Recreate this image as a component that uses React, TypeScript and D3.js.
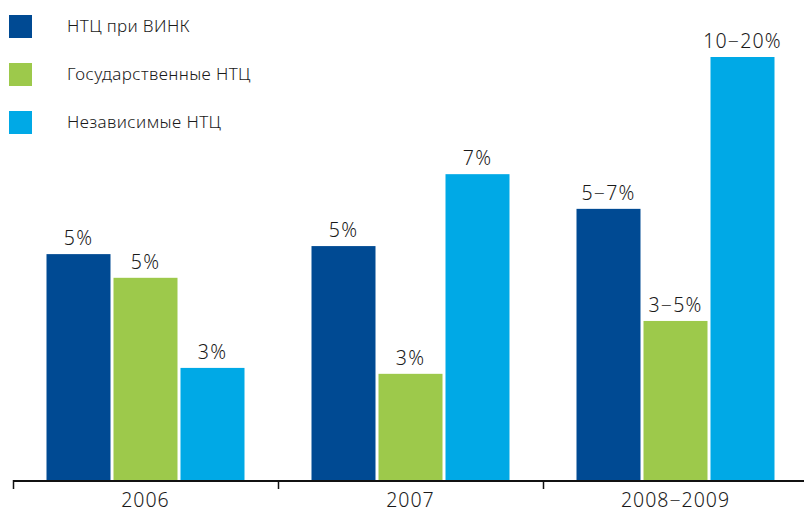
import React, { useRef, useEffect } from "react";
import * as d3 from "d3";

// Categories along the x axis
const years = ["2006", "2007", "2008−2009"];

// Series names (legend) and colours
const seriesNames = ["НТЦ при ВИНК", "Государственные НТЦ", "Независимые НТЦ"];
const colors = ["#004a93", "#9dc94b", "#00a9e6"];

// Bar heights (relative units), one array per series
const vinkValues = [5.34, 5.53, 6.41];
const stateValues = [4.78, 2.51, 3.76];
const independentValues = [2.65, 7.23, 10];

// Labels printed above each bar
const vinkLabels = ["5%", "5%", "5−7%"];
const stateLabels = ["5%", "3%", "3−5%"];
const independentLabels = ["3%", "7%", "10−20%"];

const FONT = "'Noto Sans', 'Open Sans', sans-serif";
const TEXT_COLOR = "#1a1a1a";

function App() {
  const chartRef = useRef<SVGSVGElement | null>(null);

  useEffect(() => {
    const svg = d3.select(chartRef.current);
    svg.selectAll("*").remove();

    const width = 804;
    const baseline = 480;

    const values = [vinkValues, stateValues, independentValues];
    const labels = [vinkLabels, stateLabels, independentLabels];

    // outer band: one per year, the tick marks sit on the band edges
    const x0 = d3.scaleBand().domain(years).range([13, 13 + 265 * 3]).paddingInner(0);
    // inner band: the three bars inside a year
    const x1 = d3
      .scaleBand()
      .domain(seriesNames)
      .range([33.5, 265 - 33.5])
      .paddingInner(3 / 67);
    const y = d3.scaleLinear().domain([0, 10]).range([baseline, 57]);

    // bars
    values.forEach((vals, si) => {
      const g = svg.append("g");
      g.selectAll("rect")
        .data(vals)
        .enter()
        .append("rect")
        .attr("x", (d, i) => (x0(years[i]) as number) + (x1(seriesNames[si]) as number))
        .attr("y", (d) => y(d))
        .attr("width", x1.bandwidth())
        .attr("height", (d) => baseline - y(d))
        .attr("fill", colors[si]);

      g.selectAll("text")
        .data(vals)
        .enter()
        .append("text")
        .attr("x", (d, i) => (x0(years[i]) as number) + (x1(seriesNames[si]) as number) + x1.bandwidth() / 2)
        .attr("y", (d) => y(d) - 9)
        .attr("text-anchor", "middle")
        .style("font-family", FONT)
        .style("font-size", "19.5px")
        .style("font-weight", 300)
        .style("letter-spacing", "1.2px")
        .style("fill", TEXT_COLOR)
        .text((d, i) => labels[si][i]);
    });

    // x axis line and ticks
    svg
      .append("line")
      .attr("x1", 13)
      .attr("x2", width)
      .attr("y1", baseline + 1)
      .attr("y2", baseline + 1)
      .attr("stroke", "#111")
      .attr("stroke-width", 2);

    svg
      .append("g")
      .selectAll("line")
      .data(years)
      .enter()
      .append("line")
      .attr("x1", (d) => (x0(d) as number) + 0.5)
      .attr("x2", (d) => (x0(d) as number) + 0.5)
      .attr("y1", baseline)
      .attr("y2", baseline + 9)
      .attr("stroke", "#111")
      .attr("stroke-width", 1.5);

    svg
      .append("g")
      .selectAll("text")
      .data(years)
      .enter()
      .append("text")
      .attr("x", (d) => (x0(d) as number) + x0.bandwidth() / 2)
      .attr("y", 507)
      .attr("text-anchor", "middle")
      .style("font-family", FONT)
      .style("font-size", "19.5px")
      .style("font-weight", 300)
      .style("letter-spacing", "1px")
      .style("fill", TEXT_COLOR)
      .text((d) => d);

    // legend
    const legend = svg
      .append("g")
      .selectAll("g")
      .data(seriesNames)
      .enter()
      .append("g")
      .attr("transform", (d, i) => `translate(9,${15 + i * 48})`);

    legend
      .append("rect")
      .attr("width", 23)
      .attr("height", 23)
      .attr("fill", (d, i) => colors[i]);

    legend
      .append("text")
      .attr("x", 58)
      .attr("y", 17)
      .style("font-family", FONT)
      .style("font-size", "17px")
      .style("font-weight", 300)
      .style("letter-spacing", "0.4px")
      .style("fill", TEXT_COLOR)
      .text((d) => d);
  }, []);

  return (
    <div style={{ position: "absolute", left: 0, top: 0 }}>
      <svg ref={chartRef} width={804} height={513} style={{ display: "block" }}></svg>
    </div>
  );
}

export default App;
